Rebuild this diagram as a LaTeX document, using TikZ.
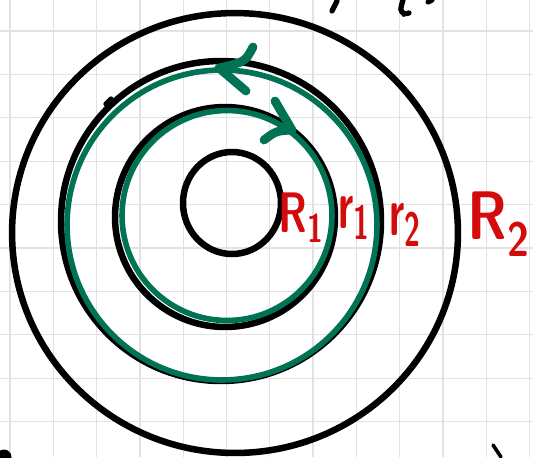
\documentclass[tikz,border=0pt]{standalone}
\usepackage{tikz}
\usetikzlibrary{positioning}
\definecolor{fieldGreen}{HTML}{007354}
\definecolor{labelRed}{HTML}{D40B0B}
\definecolor{gridGray}{HTML}{E2E2E2}

\begin{document}
\begin{tikzpicture}[
  x=0.02cm, y=-0.02cm,
  %% Line styles
  gridline/.style={draw=gridGray, line width=0.7pt},
  blackring/.style={draw=black, line width=3.7pt},
  greenring/.style={draw=fieldGreen, line width=3.2pt},
  chev/.style={draw=fieldGreen, line width=5pt, line cap=round, line join=round},
  scrib/.style={draw=black, line width=3pt, line cap=round},
  %% Label style
  lbl/.style={text=labelRed, inner sep=0pt,
              font=\sffamily\bfseries\fontsize{26}{26}\selectfont},
]

%% ── Page and grid paper ────────────────────────────────────────────────────
\useasboundingbox (0,0) rectangle (533,457);
\fill[white] (0,0) rectangle (533,457);
\foreach \k in {0,...,12} \draw[gridline] (10+43.3*\k,0) -- (10+43.3*\k,457);
\foreach \k in {0,...,9}  \draw[gridline] (0,31+43.4*\k) -- (533,31+43.4*\k);

%% ── Centres ────────────────────────────────────────────────────────────────
\coordinate (cOut) at (235,233);
\coordinate (cMid) at (221,221);
\coordinate (cIn)  at (225,217);
\coordinate (cCore) at (232,203);
\coordinate (gBig) at (222,225);
\coordinate (gSmall) at (227,215.5);

%% ── Black shells ───────────────────────────────────────────────────────────
\draw[blackring] (cOut)  ellipse [x radius=4.46cm, y radius=4.40cm];
\draw[blackring] (cMid)  circle [radius=3.20cm];
\draw[blackring] (cIn)   circle [radius=2.20cm];
\draw[blackring] (cCore) ellipse [x radius=0.98cm, y radius=1.02cm];

%% ── Green loops ────────────────────────────────────────────────────────────
\draw[greenring] (gBig)   circle [radius=3.10cm];
\draw[greenring] (gSmall) circle [radius=2.10cm];

%% direction marks
\coordinate (tipBig) at (219,68);
\coordinate (tipSmall) at (292,130);
\draw[chev] (253,47) .. controls (245,62) .. (tipBig) -- (246,91);
\draw[chev] (275,101) -- (tipSmall) .. controls (276,131) .. (264,140);

%% ── Labels ─────────────────────────────────────────────────────────────────
\node[lbl] (lR1) at (301,218) {\scalebox{0.9}[1.25]{R\textsubscript{1}}};
\node[lbl] (lr1) at (354,218) {\scalebox{0.9}[1.5]{r\textsubscript{1}}};
\node[lbl] (lr2) at (405,225) {\scalebox{0.9}[1.5]{r\textsubscript{2}}};
\node[lbl, font=\sffamily\bfseries\fontsize{34}{34}\selectfont]
  (lR2) at (499,224) {\scalebox{0.95}[1.15]{R\textsubscript{2}}};

%% ── Stray pen marks ────────────────────────────────────────────────────────
\draw[scrib] (106,104) -- (111,99);
\draw[scrib] (337,1) -- (332,11);
\draw[scrib] (403,0) .. controls (400,10) .. (404,14) -- (409,13);
\draw[scrib] (428,2) -- (432,0);
\fill (4,457) circle [radius=0.15cm];
\draw[scrib, line width=2pt] (493,445) -- (501,457);

\end{tikzpicture}
\end{document}
